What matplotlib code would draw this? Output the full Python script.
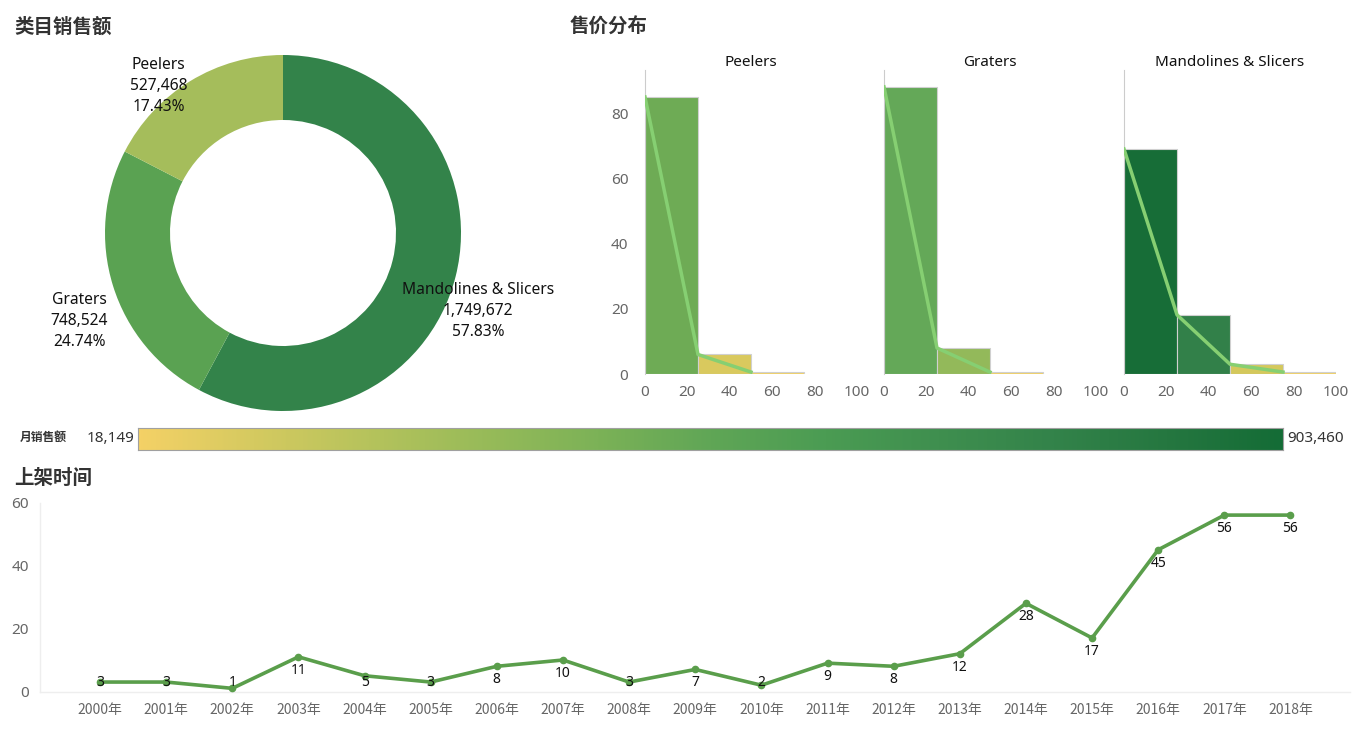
import matplotlib
matplotlib.use("Agg")
import matplotlib.pyplot as plt
import numpy as np
from matplotlib.colors import LinearSegmentedColormap

plt.rcParams['font.family'] = ['Noto Sans', 'Noto Sans CJK SC', 'DejaVu Sans']

# ---------------- data ----------------
categories = ["Mandolines & Slicers", "Graters", "Peelers"]
category_sales = [1749672, 748524, 527468]
category_pct = ["57.83%", "24.74%", "17.43%"]
category_colors = ["#33834a", "#5aa252", "#a5bd5b"]

hist_panels = ["Peelers", "Graters", "Mandolines & Slicers"]
bin_edges = [0, 25, 50, 75, 100]
hist_counts = {
    "Peelers": [85.2, 6.0, 0.6],
    "Graters": [88.3, 8.0, 0.6],
    "Mandolines & Slicers": [69.2, 18.2, 3.0, 0.6],
}
hist_colors = {
    "Peelers": ["#6eab55", "#d9c95e", "#f1d063"],
    "Graters": ["#64a858", "#93b95a", "#f1d063"],
    "Mandolines & Slicers": ["#176d37", "#328049", "#d4c85c", "#f1d063"],
}

sales_min_label = "18,149"
sales_max_label = "903,460"
green_gold = ["#f4d166", "#d5ca60", "#b6c35c", "#98bb59", "#7cb257", "#60a656",
              "#4b9c53", "#3f8f4f", "#33834a", "#257740", "#146c36"]

years = ["2000年", "2001年", "2002年", "2003年", "2004年", "2005年", "2006年",
         "2007年", "2008年", "2009年", "2010年", "2011年", "2012年", "2013年",
         "2014年", "2015年", "2016年", "2017年", "2018年"]
launch_counts = [3, 3, 1, 11, 5, 3, 8, 10, 3, 7, 2, 9, 8, 12, 28, 17, 45, 56, 56]

# ---------------- figure ----------------
W, H = 1362, 729
fig = plt.figure(figsize=(W / 100, H / 100), dpi=100)
fig.patch.set_facecolor("white")


def px_axes(x0, y0, x1, y1):
    """axes from pixel box (top-left origin)"""
    return fig.add_axes([x0 / W, 1 - y1 / H, (x1 - x0) / W, (y1 - y0) / H])


title_kw = dict(fontfamily=['Noto Sans CJK SC'], fontsize=14, fontweight='bold', color="#333333")
fig.text(14 / W, 1 - 27 / H, "类目销售额", va="center", ha="left", **title_kw)
fig.text(570 / W, 1 - 27 / H, "售价分布", va="center", ha="left", **title_kw)
fig.text(14 / W, 1 - 478 / H, "上架时间", va="center", ha="left", **title_kw)

# ---------------- donut ----------------
cx, cy, R = 283, 233, 178
ax_d = px_axes(cx - 200, cy - 200, cx + 200, cy + 200)
lim = 200 / R
ax_d.pie(category_sales, colors=category_colors, startangle=90, counterclock=False,
         radius=1, wedgeprops=dict(width=65 / R, edgecolor="none"))
ax_d.set_xlim(-lim, lim)
ax_d.set_ylim(-lim, lim)
ax_d.set_aspect("equal")
ax_d.axis("off")
label_pos = {"Mandolines & Slicers": (1.096, -0.438), "Graters": (-1.146, -0.494), "Peelers": (-0.70, 0.826)}
for name, val, pct in zip(categories, category_sales, category_pct):
    x, y = label_pos[name]
    ax_d.text(x, y, f"{name}\n{val:,}\n{pct}", ha="center", va="center",
              fontsize=11.2, color="#111111", linespacing=1.4)

# ---------------- histograms ----------------
panel_x0 = [645, 884, 1124]
for i, (name, x0) in enumerate(zip(hist_panels, panel_x0)):
    ax = px_axes(x0, 70, x0 + 212, 374)
    counts = hist_counts[name]
    lefts = bin_edges[:len(counts)]
    widths = np.diff(bin_edges)[:len(counts)]
    ax.bar(lefts, counts, width=widths, align="edge", color=hist_colors[name],
           edgecolor="#d0d0d0", linewidth=0.8, zorder=2)
    ax.plot(lefts, counts, color="#86cf72", linewidth=2.5, zorder=3)
    ax.set_xlim(0, 100)
    ax.set_ylim(0, 93.5)
    ax.set_xticks([0, 20, 40, 60, 80, 100])
    ax.set_yticks([0, 20, 40, 60, 80])
    for s in ["top", "right", "bottom"]:
        ax.spines[s].set_visible(False)
    ax.spines["left"].set_color("#cccccc")
    ax.spines["left"].set_linewidth(0.8)
    ax.tick_params(length=0, labelsize=11, colors="#666666", pad=8)
    ax.tick_params(axis="y", pad=12)
    if i > 0:
        ax.set_yticklabels([])
    ax.set_title(name, fontsize=11, color="#111111", pad=2)

# ---------------- colour legend ----------------
cmap = LinearSegmentedColormap.from_list("greengold", green_gold)
ax_c = px_axes(138, 428, 1283, 450)
ax_c.imshow(np.linspace(0, 1, 512)[None, :], aspect="auto", cmap=cmap, extent=[0, 1, 0, 1])
ax_c.set_xticks([])
ax_c.set_yticks([])
for s in ax_c.spines.values():
    s.set_color("#a0a0a0")
    s.set_linewidth(0.8)
fig.text(20 / W, 1 - 437 / H, "月销售额", fontfamily=['Noto Sans CJK SC'], fontsize=8.5,
         fontweight="bold", color="#333333", va="center", ha="left")
fig.text(134 / W, 1 - 439 / H, sales_min_label, fontsize=11, color="#333333", va="center", ha="right")
fig.text(1287 / W, 1 - 439 / H, sales_max_label, fontsize=11, color="#333333", va="center", ha="left")

# ---------------- line chart ----------------
ax_l = px_axes(40, 502.5, 1350, 691.5)
xs = np.arange(len(years))
ax_l.plot(xs, launch_counts, color="#5a9e4b", linewidth=2.6, marker="o", markersize=4.5, zorder=3,
          clip_on=False)
ax_l.set_xlim(-0.908, 18.9)
ax_l.set_ylim(0, 60)
ax_l.set_xticks(xs)
ax_l.set_xticklabels(years, fontfamily=['Noto Sans CJK SC'])
ax_l.set_yticks([0, 20, 40, 60])
for s in ["top", "right"]:
    ax_l.spines[s].set_visible(False)
for s in ["left", "bottom"]:
    ax_l.spines[s].set_color("#eeeeee")
    ax_l.spines[s].set_linewidth(1)
ax_l.tick_params(axis="x", length=0, labelsize=10, colors="#666666", pad=8)
ax_l.tick_params(axis="y", length=0, labelsize=11, colors="#666666", pad=8)
for x, v in zip(xs, launch_counts):
    ax_l.text(x, max(v - 4.3, 3), str(v), ha="center", va="center", fontsize=10, color="#111111", zorder=4)

fig.savefig("out.png", dpi=100, facecolor="white")
